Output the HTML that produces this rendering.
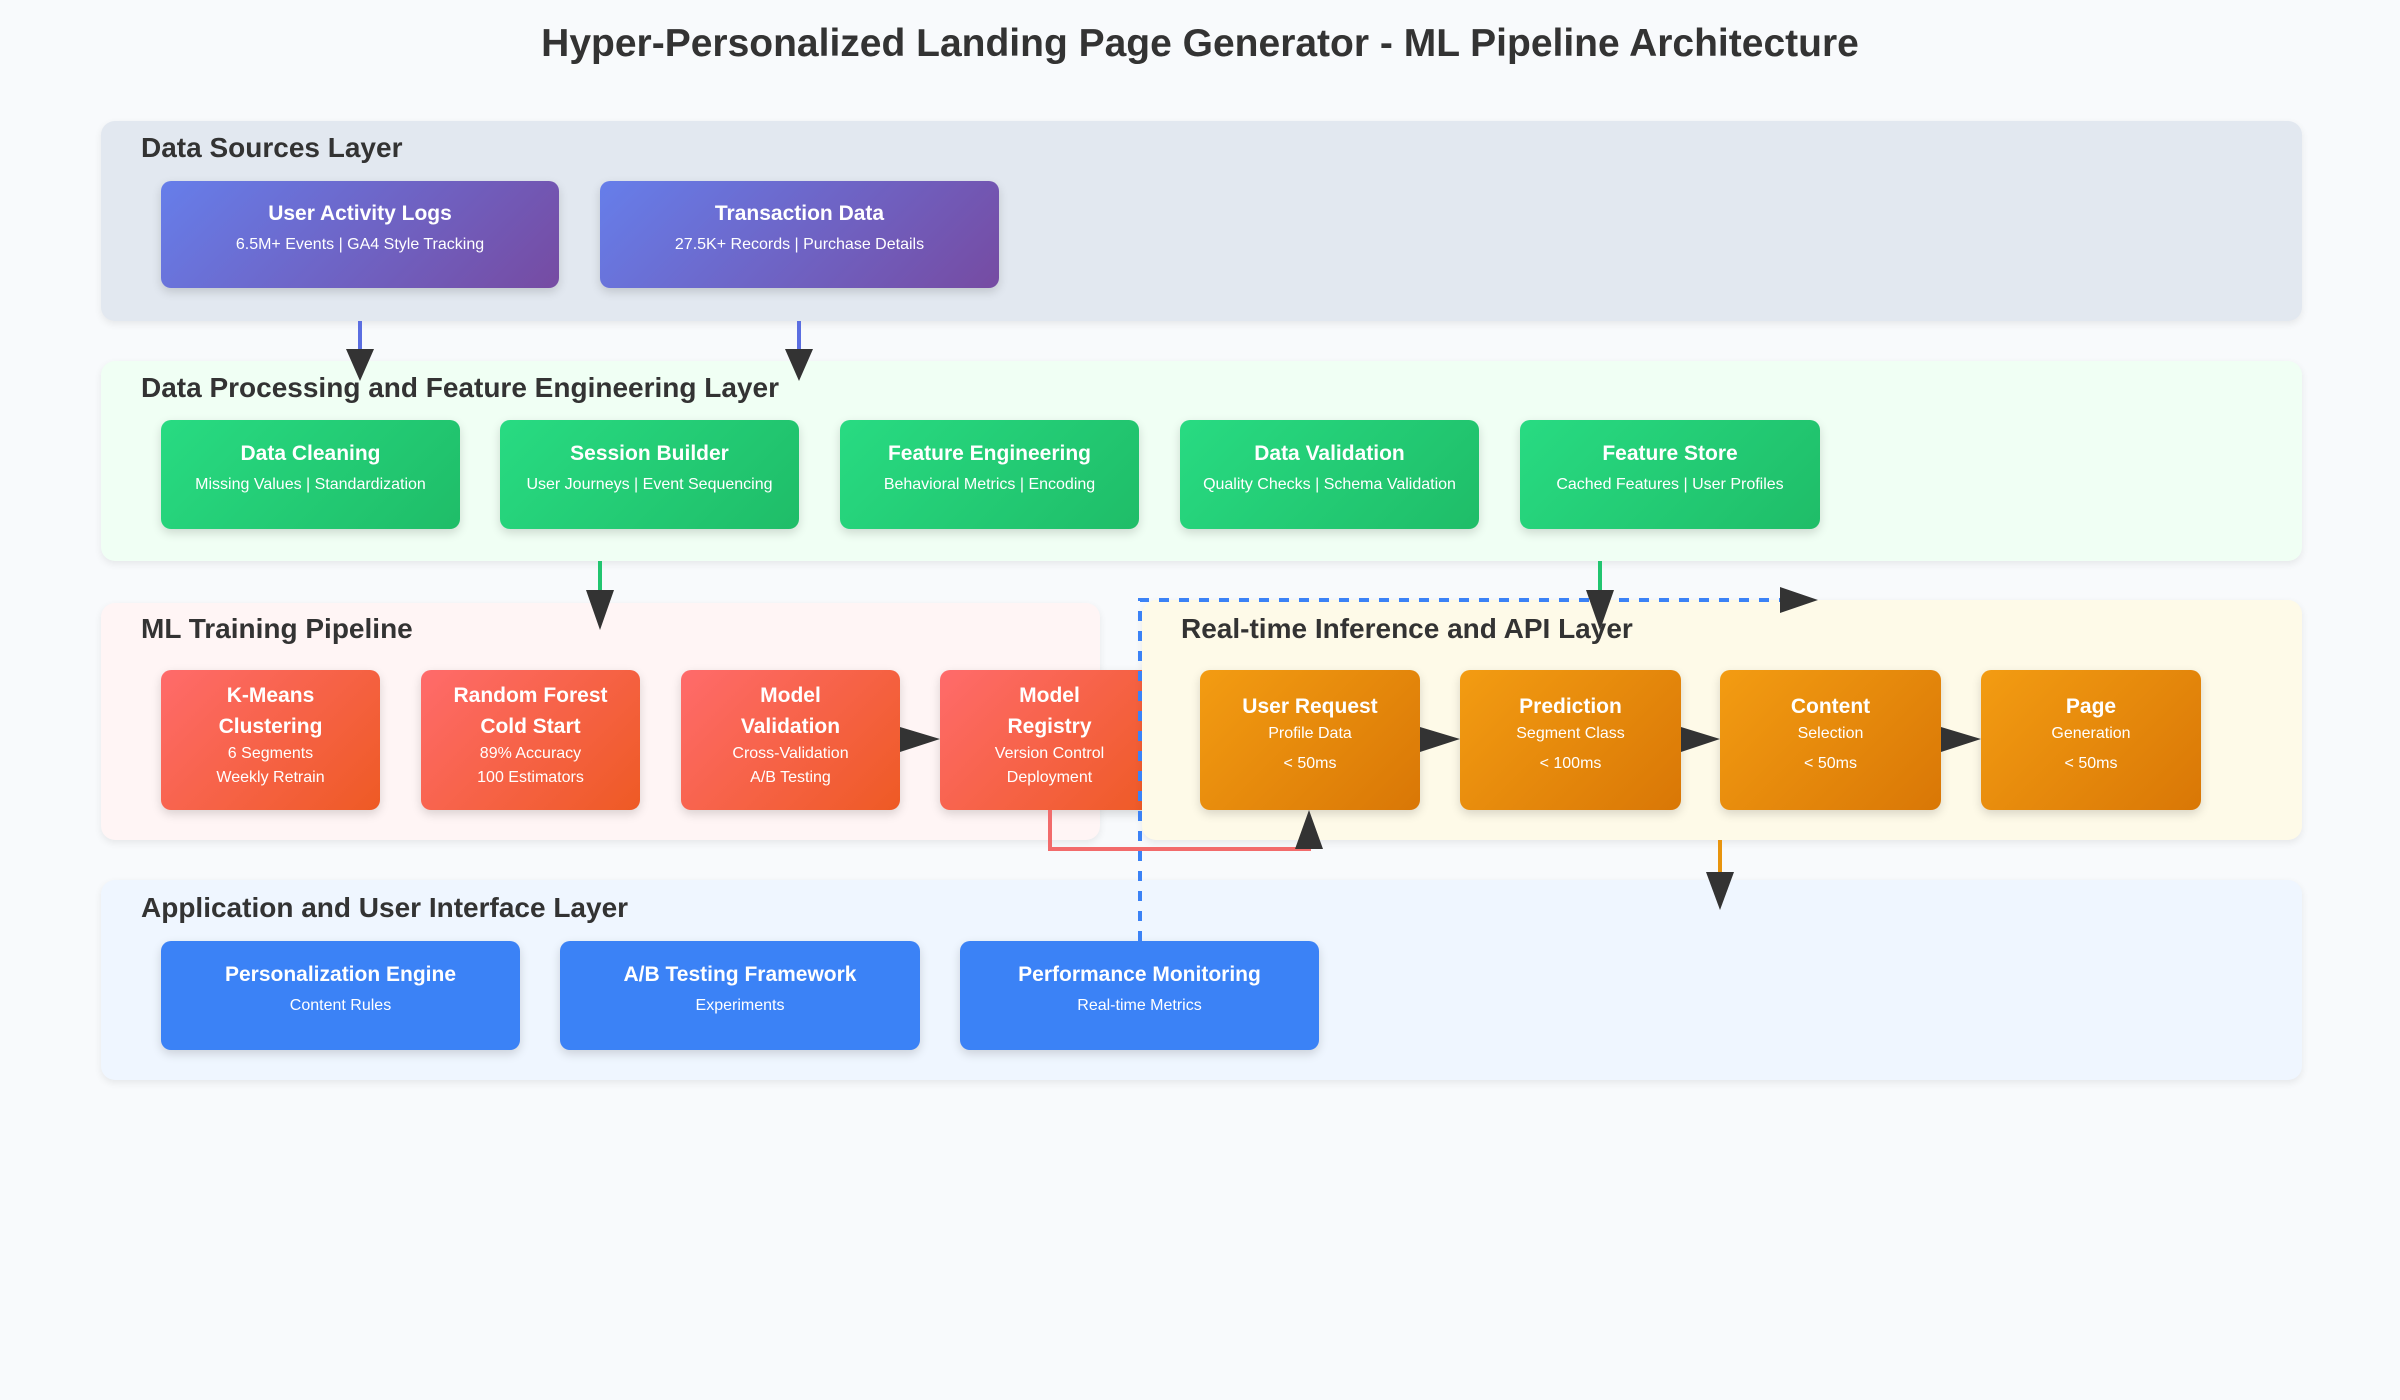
<!DOCTYPE html>
<html><head><meta charset="utf-8"><style>
*{margin:0;padding:0;box-sizing:border-box}
body{width:2400px;height:1400px;background:#f8fafc;font-family:"Liberation Sans",Arial,sans-serif;position:relative;overflow:hidden;color:#333}
.t{position:absolute;left:0;width:2400px;top:22px;text-align:center;font-size:39px;font-weight:bold;color:#333}
.L{position:absolute;border-radius:14px;box-shadow:0 3px 8px rgba(0,0,0,.08)}
.lt{position:absolute;font-size:28px;font-weight:bold;color:#333;white-space:nowrap}
.b{position:absolute;border-radius:10px;color:#fff;display:flex;flex-direction:column;align-items:center;justify-content:center;text-align:center;box-shadow:0 4px 10px rgba(0,0,0,.15)}
.b h{display:block;font-size:21px;font-weight:bold;line-height:31px}
.b s{display:block;text-decoration:none;font-size:16px;line-height:24px}
.p{background:linear-gradient(135deg,#667eea,#764ba2)}
.g{background:linear-gradient(135deg,#28db82,#1fbd68)}
.r{background:linear-gradient(135deg,#ff6b6b,#ee5a24)}
.o{background:linear-gradient(135deg,#f39c12,#d97706)}
.bl{background:#3b82f6}
.ds s{margin-top:4px}
</style></head><body>
<div class="t">Hyper-Personalized Landing Page Generator - ML Pipeline Architecture</div>

<div class="L" style="left:101px;top:121px;width:2201px;height:200px;background:#e2e8f0"></div>
<div class="lt" style="left:141px;top:132px">Data Sources Layer</div>
<div class="b p ds" style="left:161px;top:181px;width:398px;height:107px;padding-bottom:14px"><h>User Activity Logs</h><s>6.5M+ Events | GA4 Style Tracking</s></div>
<div class="b p ds" style="left:600px;top:181px;width:399px;height:107px;padding-bottom:14px"><h>Transaction Data</h><s>27.5K+ Records | Purchase Details</s></div>

<div class="L" style="left:101px;top:361px;width:2201px;height:200px;background:#f0fff4"></div>
<div class="lt" style="left:141px;top:372px">Data Processing and Feature Engineering Layer</div>
<div class="b g ds" style="left:161px;top:420px;width:299px;height:109px;padding-bottom:14px"><h>Data Cleaning</h><s>Missing Values | Standardization</s></div>
<div class="b g ds" style="left:500px;top:420px;width:299px;height:109px;padding-bottom:14px"><h>Session Builder</h><s>User Journeys | Event Sequencing</s></div>
<div class="b g ds" style="left:840px;top:420px;width:299px;height:109px;padding-bottom:14px"><h>Feature Engineering</h><s>Behavioral Metrics | Encoding</s></div>
<div class="b g ds" style="left:1180px;top:420px;width:299px;height:109px;padding-bottom:14px"><h>Data Validation</h><s>Quality Checks | Schema Validation</s></div>
<div class="b g ds" style="left:1520px;top:420px;width:300px;height:109px;padding-bottom:14px"><h>Feature Store</h><s>Cached Features | User Profiles</s></div>

<div class="L" style="left:101px;top:603px;width:999px;height:237px;background:#fff5f5"></div>
<div class="lt" style="left:141px;top:613px">ML Training Pipeline</div>
<div class="b r" style="left:161px;top:670px;width:219px;height:140px;padding-bottom:10px"><h>K-Means<br>Clustering</h><s>6 Segments<br>Weekly Retrain</s></div>
<div class="b r" style="left:421px;top:670px;width:219px;height:140px;padding-bottom:10px"><h>Random Forest<br>Cold Start</h><s>89% Accuracy<br>100 Estimators</s></div>
<div class="b r" style="left:681px;top:670px;width:219px;height:140px;padding-bottom:10px"><h>Model<br>Validation</h><s>Cross-Validation<br>A/B Testing</s></div>
<div class="b r" style="left:940px;top:670px;width:219px;height:140px;padding-bottom:10px"><h>Model<br>Registry</h><s>Version Control<br>Deployment</s></div>

<div class="L" style="left:1142px;top:600px;width:1160px;height:240px;background:#fefae8"></div>
<div class="lt" style="left:1181px;top:613px">Real-time Inference and API Layer</div>
<div class="b o" style="left:1200px;top:670px;width:220px;height:140px;padding-bottom:14px"><h>User Request</h><s>Profile Data</s><s style="margin-top:6px">&lt; 50ms</s></div>
<div class="b o" style="left:1460px;top:670px;width:221px;height:140px;padding-bottom:14px"><h>Prediction</h><s>Segment Class</s><s style="margin-top:6px">&lt; 100ms</s></div>
<div class="b o" style="left:1720px;top:670px;width:221px;height:140px;padding-bottom:14px"><h>Content</h><s>Selection</s><s style="margin-top:6px">&lt; 50ms</s></div>
<div class="b o" style="left:1981px;top:670px;width:220px;height:140px;padding-bottom:14px"><h>Page</h><s>Generation</s><s style="margin-top:6px">&lt; 50ms</s></div>

<div class="L" style="left:101px;top:880px;width:2201px;height:200px;background:#eff6ff"></div>
<div class="lt" style="left:141px;top:892px">Application and User Interface Layer</div>
<div class="b bl ds" style="left:161px;top:941px;width:359px;height:109px;padding-bottom:14px"><h>Personalization Engine</h><s>Content Rules</s></div>
<div class="b bl ds" style="left:560px;top:941px;width:360px;height:109px;padding-bottom:14px"><h>A/B Testing Framework</h><s>Experiments</s></div>
<div class="b bl ds" style="left:960px;top:941px;width:359px;height:109px;padding-bottom:14px"><h>Performance Monitoring</h><s>Real-time Metrics</s></div>

<svg style="position:absolute;left:0;top:0" width="2400" height="1400">
<g stroke-width="4" fill="none">
<line x1="360" y1="321" x2="360" y2="355" stroke="#5b6ee1"/>
<line x1="799" y1="321" x2="799" y2="355" stroke="#5b6ee1"/>
<line x1="600" y1="561" x2="600" y2="600" stroke="#22c570"/>
<line x1="1600" y1="561" x2="1600" y2="600" stroke="#22c570"/>
<polyline points="1140,941 1140,600 1785,600" stroke="#3b82f6" stroke-dasharray="10,10"/>
<polyline points="1050,810 1050,849 1309,849 1309,840" stroke="#f26b6b"/>
<line x1="1720" y1="840" x2="1720" y2="880" stroke="#e8940e"/>
</g>
<g fill="#333">
<polygon points="346,349 374,349 360,381"/>
<polygon points="785,349 813,349 799,381"/>
<polygon points="586,590 614,590 600,630"/>
<polygon points="1586,590 1614,590 1600,630"/>
<polygon points="1780,587 1780,613 1818,600"/>
<polygon points="900,727 900,752 940,739"/>
<polygon points="1420,727 1420,752 1460,739"/>
<polygon points="1681,727 1681,752 1720,739"/>
<polygon points="1941,727 1941,752 1981,739"/>
<polygon points="1295,849 1323,849 1309,810"/>
<polygon points="1706,872 1734,872 1720,910"/>
</g>
</svg>
</body></html>
